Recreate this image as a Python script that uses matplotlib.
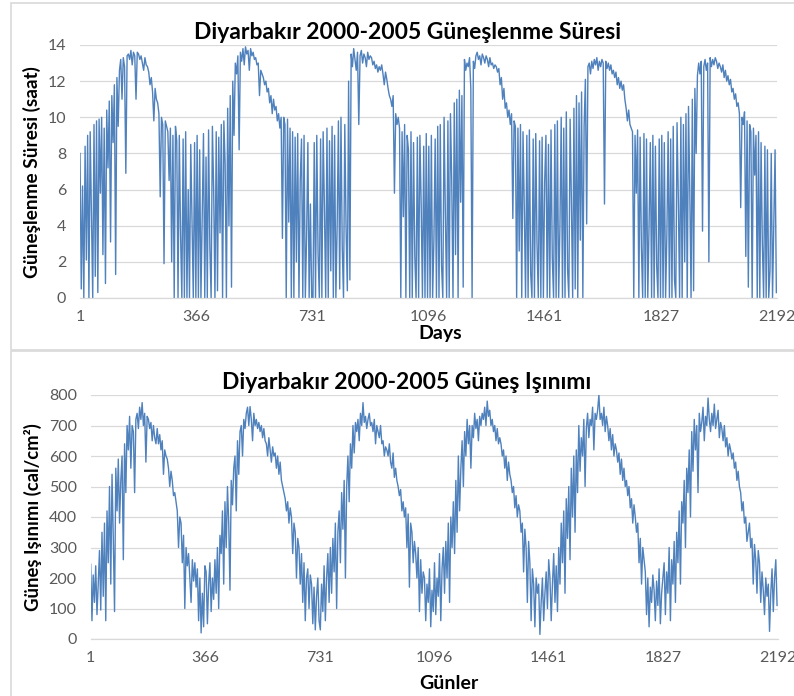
import numpy as np
import matplotlib
matplotlib.use("Agg")
import matplotlib.pyplot as plt
from matplotlib.patches import Rectangle

plt.rcParams['font.family'] = ['Lato', 'DejaVu Sans']

# ---- data (values read every 4 days from the chart) ----
sun_2000 = [8.0, 0.5, 6.2, 0.0, 8.4, 2.1, 9.0, 0.0,
            9.2, 4.5, 0.0, 9.6, 1.2, 9.8, 0.3,
            9.9, 5.8, 10.0, 2.4, 9.4, 0.8, 10.4, 7.2,
            10.9, 3.1, 11.2, 8.6, 11.8, 1.3, 12.2,
            9.5, 12.6, 13.2, 11.0, 13.3, 12.8, 6.9, 13.4,
            13.5, 13.2, 13.7, 12.9, 13.6, 13.4, 11.0, 13.6,
            13.5, 13.2, 13.4, 13.0, 12.6, 13.3, 12.9,
            12.8, 12.5, 11.8, 12.2, 11.4, 9.8, 11.6, 11.0,
            10.8, 10.2, 5.6, 10.0, 9.6, 1.9, 9.8,
            9.5, 9.2, 6.5, 9.4, 2.0, 9.0, 0.0, 9.5,
            8.7, 0.0, 9.0, 3.5, 0.0, 8.8, 0.0,
            9.2, 0.0, 6.0, 0.0, 8.5, 4.2, 0.0, 8.6, 0.0]
sun_2001 = [9.0, 0.0, 8.2, 0.0, 4.5, 9.1, 0.0, 7.8,
            0.0, 9.3, 2.8, 0.0, 9.5, 6.0, 0.0,
            9.2, 0.4, 8.9, 3.6, 9.6, 0.0, 9.8, 7.4,
            0.0, 10.5, 4.0, 11.2, 0.6, 12.0, 9.0,
            13.0, 12.4, 13.4, 8.2, 13.6, 13.1, 13.8, 12.9,
            13.9, 13.5, 13.7, 12.6, 13.8, 13.4, 13.6, 13.2,
            13.3, 12.9, 13.0, 11.2, 12.6, 12.4, 12.2,
            11.8, 12.0, 11.4, 11.6, 10.8, 11.2, 10.2, 11.0,
            10.4, 10.6, 9.8, 10.2, 9.4, 10.0, 3.3,
            10.0, 9.6, 0.0, 9.9, 4.2, 9.4, 0.0, 9.2,
            0.0, 8.9, 2.0, 9.1, 0.0, 6.5, 8.8,
            0.0, 9.0, 0.0, 3.4, 8.6, 0.0, 5.2, 0.0]
sun_2002 = [0.0, 8.6, 0.0, 9.0, 2.5, 0.0, 8.8, 0.0,
            9.2, 5.0, 0.0, 9.4, 0.0, 8.7, 1.5,
            9.5, 0.0, 9.0, 0.0, 4.0, 9.8, 0.5, 10.0,
            2.8, 0.0, 9.6, 3.9, 0.4, 12.0, 1.0,
            13.5, 12.8, 13.8, 13.2, 12.6, 13.6, 9.6, 13.4,
            13.7, 13.0, 13.5, 13.3, 12.8, 13.6, 13.2, 13.4,
            13.3, 12.9, 13.1, 12.7, 12.9, 12.5, 12.8,
            12.6, 12.9, 12.4, 11.8, 12.5, 12.1, 11.6, 11.2,
            11.0, 10.6, 11.2, 5.8, 10.2, 9.6, 10.0,
            9.4, 0.0, 9.2, 4.5, 9.6, 0.0, 9.0, 8.2,
            0.0, 9.2, 0.0, 8.6, 2.3, 0.0, 8.9,
            0.0, 9.0, 5.2, 0.0, 8.4, 0.0, 9.1, 0.0]
sun_2003 = [8.4, 0.0, 9.0, 0.0, 3.2, 8.8, 0.0, 9.5,
            0.0, 9.6, 1.8, 0.0, 10.0, 4.6, 0.0,
            9.8, 0.0, 10.2, 6.5, 0.0, 10.8, 2.4, 11.0,
            0.0, 11.5, 5.3, 11.2, 0.6, 13.2, 12.6,
            13.0, 12.8, 13.3, 11.6, 0.0, 13.1, 12.7, 13.4,
            13.6, 13.2, 13.4, 12.9, 13.5, 13.3, 13.0, 13.4,
            13.2, 12.8, 13.3, 12.9, 13.0, 12.7, 12.9,
            12.8, 12.5, 12.7, 11.8, 12.2, 11.0, 11.6, 10.5,
            10.8, 10.0, 10.4, 9.6, 10.2, 4.4, 9.8,
            9.5, 0.0, 9.4, 2.6, 9.6, 0.0, 9.2, 5.0,
            0.0, 9.0, 0.0, 9.3, 1.4, 0.0, 8.8,
            0.0, 9.1, 3.0, 0.0, 8.7, 0.0, 8.9, 0.0, 6.4]
sun_2004 = [9.0, 0.0, 8.5, 0.0, 9.3, 2.2, 0.0, 9.6,
            0.0, 9.8, 0.0, 4.0, 10.0, 0.0, 9.4,
            0.0, 10.3, 1.6, 0.0, 9.9, 5.4, 0.0, 10.5,
            0.5, 11.2, 0.0, 10.8, 3.2, 11.4, 0.0,
            9.5, 12.1, 4.1, 12.8, 13.0, 12.4, 13.1, 12.7,
            13.2, 12.9, 13.3, 12.6, 13.1, 12.8, 13.2, 13.0,
            5.2, 13.1, 12.7, 13.0, 12.6, 12.9, 12.4,
            12.6, 12.2, 12.5, 11.8, 12.2, 11.6, 12.0, 11.5,
            11.8, 11.0, 10.5, 9.8, 10.4, 9.6, 9.4,
            9.2, 0.0, 9.0, 5.8, 9.3, 0.0, 8.9, 2.8,
            0.0, 9.1, 0.0, 8.8, 0.0, 4.0, 8.6,
            0.0, 9.0, 0.0, 8.4, 1.8, 0.0, 8.8, 0.0]
sun_2005 = [9.0, 0.0, 8.6, 0.0, 3.5, 9.2, 0.0, 8.8,
            0.0, 9.5, 1.0, 0.0, 9.7, 5.5, 0.0,
            10.0, 0.0, 9.6, 2.0, 10.2, 0.0, 10.6, 6.0,
            0.0, 11.0, 0.4, 11.6, 8.0, 12.3, 13.0,
            12.4, 13.1, 3.7, 12.8, 13.2, 12.6, 13.0, 2.0,
            13.3, 12.8, 13.2, 12.9, 13.3, 13.1, 12.7, 13.0,
            12.8, 12.5, 12.9, 12.2, 12.6, 12.0, 12.3,
            11.8, 12.1, 11.4, 11.6, 11.0, 11.3, 10.6, 10.8,
            10.2, 5.0, 10.0, 9.6, 10.3, 2.3, 9.8,
            0.6, 9.6, 9.2, 0.0, 9.4, 6.8, 9.0, 0.0,
            9.2, 0.0, 8.6, 3.0, 0.0, 8.4, 0.0,
            8.2, 0.0, 1.5, 8.0, 0.0, 4.0, 8.2, 0.3]

rad_2000 = [245, 60, 210, 120, 240, 80, 180, 290,
            95, 350, 140, 380, 60, 420, 250,
            500, 180, 540, 330, 90, 560, 420, 590,
            380, 520, 600, 260, 640, 480, 700,
            620, 730, 560, 700, 680, 480, 720, 740,
            690, 760, 720, 775, 700, 740, 580, 730,
            720, 690, 710, 650, 700, 660, 640,
            690, 640, 670, 620, 650, 540, 620, 600,
            590, 560, 500, 550, 520, 470, 480,
            450, 420, 300, 400, 380, 250, 340, 100,
            300, 240, 280, 200, 120, 260, 190,
            250, 170, 230, 60, 200, 20, 150, 40, 240]
rad_2001 = [220, 50, 180, 250, 90, 200, 130, 260,
            150, 300, 100, 340, 280, 420, 180,
            450, 300, 500, 380, 160, 520, 440, 560,
            600, 420, 650, 540, 680, 700, 600,
            720, 690, 740, 760, 700, 762, 720, 650,
            740, 700, 720, 690, 710, 680, 700, 660,
            690, 650, 640, 600, 660, 620, 580,
            630, 600, 610, 560, 600, 540, 580, 520,
            500, 480, 460, 420, 450, 380, 430,
            400, 280, 380, 350, 200, 330, 300, 180,
            280, 120, 250, 60, 200, 230, 100,
            210, 180, 50, 170, 30, 140, 200, 60]
rad_2002 = [30, 180, 90, 240, 60, 200, 280, 120,
            300, 150, 330, 220, 380, 100, 350,
            420, 250, 480, 360, 520, 200, 500, 600,
            450, 640, 560, 700, 610, 710, 680,
            720, 650, 740, 700, 775, 710, 730, 690,
            720, 740, 700, 710, 680, 720, 640, 700,
            680, 660, 700, 640, 650, 600, 630,
            620, 600, 640, 580, 560, 610, 530, 560,
            520, 500, 470, 490, 420, 450, 400,
            430, 300, 410, 170, 380, 350, 250, 320,
            280, 200, 300, 90, 260, 150, 220,
            200, 60, 180, 120, 230, 40, 160, 90]
rad_2003 = [250, 80, 200, 140, 280, 60, 230, 300,
            150, 320, 200, 380, 120, 400, 300,
            450, 280, 520, 350, 600, 420, 560, 650,
            500, 680, 600, 720, 640, 700, 560,
            700, 660, 740, 690, 720, 650, 730, 700,
            740, 720, 760, 700, 780, 730, 750, 700,
            720, 680, 700, 650, 690, 640, 660,
            640, 600, 620, 560, 600, 520, 580, 540,
            520, 480, 500, 430, 470, 400, 440,
            420, 350, 380, 220, 360, 300, 120, 320,
            250, 60, 230, 180, 40, 200, 150,
            180, 15, 120, 200, 60, 150, 220, 100, 260]
rad_2004 = [200, 60, 180, 280, 120, 240, 90, 300,
            180, 380, 250, 420, 150, 460, 330,
            500, 260, 560, 400, 600, 350, 620, 480,
            700, 550, 660, 600, 720, 500, 690,
            740, 660, 720, 700, 760, 620, 740, 720,
            750, 800, 720, 740, 700, 760, 680, 730,
            700, 650, 690, 620, 670, 600, 640,
            620, 580, 610, 540, 590, 520, 560, 500,
            520, 470, 500, 430, 460, 380, 440,
            400, 350, 380, 250, 330, 180, 300, 260,
            220, 80, 200, 40, 170, 120, 210,
            160, 60, 190, 110, 230, 50, 150, 200]
rad_2005 = [250, 80, 220, 150, 300, 60, 260, 180,
            320, 120, 350, 250, 420, 180, 450,
            380, 520, 300, 560, 480, 620, 400, 680,
            550, 720, 620, 700, 480, 740, 680,
            710, 760, 650, 730, 700, 790, 720, 680,
            740, 700, 770, 690, 720, 750, 660, 710,
            690, 650, 700, 630, 660, 600, 640,
            620, 590, 610, 560, 580, 520, 550, 500,
            480, 420, 450, 380, 400, 320, 350,
            380, 300, 330, 180, 310, 260, 150, 290,
            250, 120, 220, 160, 80, 200, 140,
            180, 25, 150, 230, 90, 200, 260, 110]

sunshine = np.array(sun_2000 + sun_2001 + sun_2002 + sun_2003 + sun_2004 + sun_2005)
radiation = np.array(rad_2000 + rad_2001 + rad_2002 + rad_2003 + rad_2004 + rad_2005)
days_sun = 1 + 4 * np.arange(len(sunshine))
days_rad = 1 + 4 * np.arange(len(radiation))
xticks = [1, 366, 731, 1096, 1461, 1827, 2192]

W, H = 794, 696
fig = plt.figure(figsize=(W / 100, H / 100), dpi=100)

def fx(px):
    return px / W

def fy(py):
    return 1 - py / H

line_c = '#4F81BD'
grid_c = '#D9D9D9'
tick_c = '#595959'

# chart frames
fig.add_artist(Rectangle((fx(11), fy(350)), fx(900), fy(3) - fy(350), transform=fig.transFigure,
                         fill=False, edgecolor=grid_c, lw=1.2))
fig.add_artist(Rectangle((fx(11), fy(760)), fx(900), fy(351) - fy(760), transform=fig.transFigure,
                         fill=False, edgecolor=grid_c, lw=1.2))

def setup(ax, ymax, ystep):
    ax.set_xlim(1, 2192)
    ax.set_ylim(0, ymax)
    ax.set_yticks(np.arange(0, ymax + 0.1, ystep))
    ax.set_xticks(xticks)
    ax.set_xticklabels([str(t) for t in xticks])
    ax.grid(axis='y', color=grid_c, lw=0.9)
    ax.set_axisbelow(True)
    for s in ['left', 'right', 'top']:
        ax.spines[s].set_visible(False)
    ax.spines['bottom'].set_color(grid_c)
    ax.spines['bottom'].set_linewidth(0.9)
    ax.tick_params(length=0, colors=tick_c, labelsize=11.5)
    ax.tick_params(axis='y', pad=10)
    ax.tick_params(axis='x', pad=9)
    for lab in ax.get_xticklabels() + ax.get_yticklabels():
        lab.set_clip_on(False)

# top chart
ax1 = fig.add_axes([fx(80), fy(298), fx(777.3) - fx(80), fy(45) - fy(298)])
setup(ax1, 14, 2)
ax1.plot(days_sun, sunshine, color=line_c, lw=1.0)

# bottom chart
ax2 = fig.add_axes([fx(90.7), fy(639), fx(778) - fx(90.7), fy(395) - fy(639)])
setup(ax2, 800, 100)
ax2.plot(days_rad, radiation, color=line_c, lw=1.0)

fig.text(fx(407.5), fy(39), 'Diyarbakır 2000-2005 Güneşlenme Süresi', ha='center', va='baseline',
         fontsize=16.5, fontweight='bold', color='black')
fig.text(fx(406.5), fy(389), 'Diyarbakır 2000-2005 Güneş Işınımı', ha='center', va='baseline',
         fontsize=16.5, fontweight='bold', color='black')
fig.text(fx(440), fy(339), 'Days', ha='center', va='baseline', fontsize=14, fontweight='bold')
fig.text(fx(449), fy(689), 'Günler', ha='center', va='baseline', fontsize=14, fontweight='bold')
fig.text(fx(32), fy(172.5), 'Güneşlenme Süresi (saat)', ha='center', va='center', rotation=90,
         fontsize=13.7, fontweight='bold')
fig.text(fx(33), fy(517.5), 'Güneş Işınımı (cal/cm²)', ha='center', va='center', rotation=90,
         fontsize=13.3, fontweight='bold')

fig.savefig('out.png', dpi=100, facecolor='white')
